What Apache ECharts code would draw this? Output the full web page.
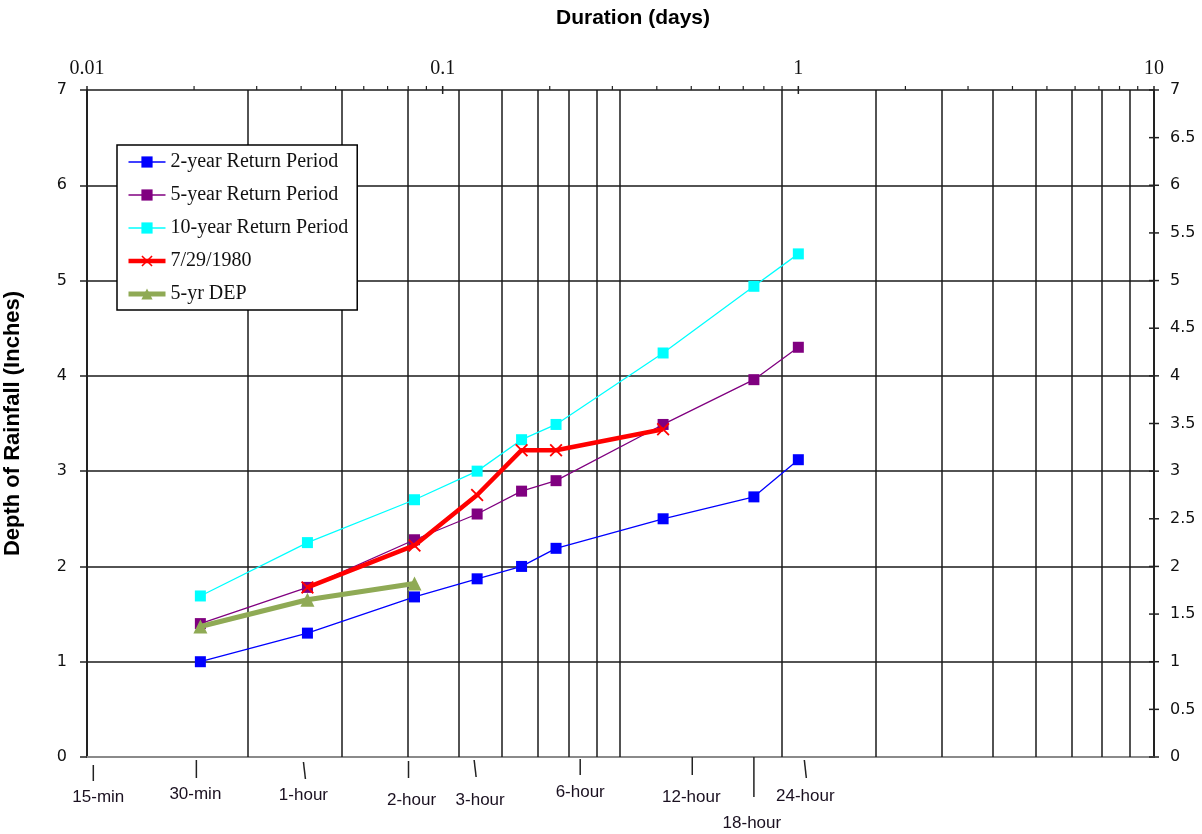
<!DOCTYPE html>
<html><head><meta charset="utf-8">
<script src="https://cdn.jsdelivr.net/npm/echarts@6/dist/echarts.min.js"></script>
<style>html,body{margin:0;padding:0;background:#fff}#c{width:1202px;height:834px}</style>
</head><body><div id="c"></div>
<script>
// ---- data (durations in days, depths in inches) ----
const durations = [0.020833, 0.041667, 0.083333, 0.125, 0.166667, 0.208333, 0.416667, 0.75, 1.0];
const twoYear  = [1.00, 1.30, 1.68, 1.87, 2.00, 2.19, 2.50, 2.73, 3.12];
const fiveYear = [1.40, 1.78, 2.28, 2.55, 2.79, 2.90, 3.49, 3.96, 4.30];
const tenYear  = [1.69, 2.25, 2.70, 3.00, 3.33, 3.49, 4.24, 4.94, 5.28];
const stormDurations = [0.041667, 0.083333, 0.125, 0.166667, 0.208333, 0.416667];
const storm1980 = [1.78, 2.22, 2.75, 3.22, 3.22, 3.44];
const depDurations = [0.020833, 0.041667, 0.083333];
const dep5yr = [1.37, 1.65, 1.82];
const seriesNames = ['2-year Return Period', '5-year Return Period', '10-year Return Period', '7/29/1980', '5-yr DEP'];
// bottom duration labels (in days)
const bottomTickValues = [0.010417, 0.020833, 0.041667, 0.083333, 0.125, 0.25, 0.5, 0.75, 1.0];
const bottomTickLabels = ['15-min', '30-min', '1-hour', '2-hour', '3-hour', '6-hour', '12-hour', '18-hour', '24-hour'];
// extra vertical gridlines (in days)
const gridDays = [0.02835, 0.0521, 0.0799, 0.1111, 0.1468, 0.1853, 0.2265, 0.2716, 0.315, 0.8993, 1.653, 2.533, 3.525, 4.656, 5.877, 7.137, 8.556];
// axis ticks
const topMajorTicks = [0.01, 0.1, 1, 10];
const topMinorTicks = [0.02,0.03,0.04,0.05,0.06,0.07,0.08,0.09,0.2,0.3,0.4,0.5,0.6,0.7,0.8,0.9,2,3,4,5,6,7,8,9];
const rightTicks = [0,0.5,1,1.5,2,2.5,3,3.5,4,4.5,5,5.5,6,6.5,7];

// ---- styles for bottom labels: [tickDx, tickTop, tickBottom, slant, labelDx, labelDy] ----
const bottomLabelStyle = [
  [0, 8, 24, 0, 5, 40],
  [-4, 3, 21, 0, -5, 37],
  [-4, 5, 22, 2, -4, 38],
  [-6, 4, 21, 0, -3, 43],
  [-3, 3, 20, 2, 3, 43],
  [-4, 2, 18, 0, -4, 35],
  [1, 0, 18, 0, 0, 40],
  [0, 0, 40, 0, -2, 66],
  [6, 3, 21, 2, 7, 39]
];

const GRID = '#1a1a1a';
const pair = (xs, ys) => xs.map((x, i) => [x, ys[i]]);
const xMark = 'path://M0,1L1,0L5,4L9,0L10,1L6,5L10,9L9,10L5,6L1,10L0,9L4,5Z';

const chart = echarts.init(document.getElementById('c'), null, {renderer: 'canvas'});
const option = {
  animation: false,
  backgroundColor: '#fff',
  title: {
    text: 'Duration (days)', left: 628, top: 3, textAlign: 'center',
    textStyle: {fontFamily: 'Liberation Sans', fontWeight: 'bold', fontSize: 21, color: '#000'}
  },
  legend: {
    data: seriesNames, orient: 'vertical', left: 117, top: 145,
    padding: [7, 9, 6, 9], itemGap: 13, itemWidth: 37, itemHeight: 14,
    borderColor: '#000', borderWidth: 1.5, backgroundColor: '#fff',
    lineStyle: {width: 'inherit'},
    textStyle: {fontFamily: 'Liberation Serif', fontSize: 20, color: '#111', lineHeight: 20},
    selectedMode: false
  },
  grid: {left: 87, right: 48, top: 90, bottom: 77, containLabel: false, outerBoundsMode: 'none'},
  xAxis: [
    {
      type: 'log', logBase: 10, min: 0.01, max: 10, position: 'top',
      axisLine: {show: true, lineStyle: {color: '#222', width: 2}},
      axisTick: {show: false}, splitLine: {show: false}, minorTick: {show: false},
      axisLabel: {show: true, margin: 11, fontFamily: 'Liberation Serif', fontSize: 20, color: '#111',
                  showMinLabel: true, showMaxLabel: true, hideOverlap: false,
                  formatter: v => String(+(+v).toPrecision(3))}
    },
    {
      type: 'log', logBase: 10, min: 0.01, max: 10, position: 'bottom',
      axisLine: {show: true, lineStyle: {color: '#8a8a8a', width: 2}},
      axisTick: {show: false}, axisLabel: {show: false}, splitLine: {show: false}
    }
  ],
  yAxis: [
    {
      type: 'value', min: 0, max: 7, interval: 1, position: 'left',
      name: 'Depth of Rainfall (Inches)', nameLocation: 'middle', nameGap: 63,
      nameTextStyle: {fontFamily: 'Liberation Sans', fontWeight: 'bold', fontSize: 22, color: '#000'},
      axisLine: {show: true, lineStyle: {color: '#222', width: 2}},
      axisTick: {show: true, length: 7, lineStyle: {color: '#222', width: 1.5}},
      axisLabel: {margin: 20, fontFamily: 'DejaVu Sans', fontSize: 16, color: '#111'},
      splitLine: {show: true, lineStyle: {color: GRID, width: 1.5}}
    },
    {
      type: 'value', min: 0, max: 7, interval: 0.5, position: 'right',
      axisLine: {show: true, lineStyle: {color: '#222', width: 2}},
      axisTick: {show: false},
      axisLabel: {margin: 16, fontFamily: 'DejaVu Sans', fontSize: 16, color: '#111'},
      splitLine: {show: false}
    }
  ],
  series: [
    {
      type: 'custom', name: 'vgrid', xAxisIndex: 0, yAxisIndex: 0, silent: true, z: 1, clip: false,
      data: gridDays.map(d => [d, 0]),
      renderItem: (params, api) => {
        const p0 = api.coord([api.value(0), 0]);
        const p1 = api.coord([api.value(0), 7]);
        const x = Math.round(p0[0]);
        return {type: 'line', shape: {x1: x, y1: p0[1], x2: x, y2: p1[1]},
                style: {stroke: GRID, lineWidth: 1.5}};
      }
    },
    {
      type: 'custom', name: 'topMajor', xAxisIndex: 0, yAxisIndex: 0, silent: true, z: 3, clip: false,
      data: topMajorTicks.map(d => [d, 7]),
      renderItem: (params, api) => {
        const p = api.coord([api.value(0), 7]);
        return {type: 'line', shape: {x1: p[0], y1: p[1] - 4, x2: p[0], y2: p[1] + 4},
                style: {stroke: '#222', lineWidth: 1.5}};
      }
    },
    {
      type: 'custom', name: 'topMinor', xAxisIndex: 0, yAxisIndex: 0, silent: true, z: 3, clip: false,
      data: topMinorTicks.map(d => [d, 7]),
      renderItem: (params, api) => {
        const p = api.coord([api.value(0), 7]);
        return {type: 'line', shape: {x1: p[0], y1: p[1] - 4, x2: p[0], y2: p[1]},
                style: {stroke: '#222', lineWidth: 1.2}};
      }
    },
    {
      type: 'custom', name: 'rightTicks', xAxisIndex: 0, yAxisIndex: 0, silent: true, z: 3, clip: false,
      data: rightTicks.map(v => [10, v]),
      renderItem: (params, api) => {
        const p = api.coord([10, api.value(1)]);
        return {type: 'line', shape: {x1: p[0] - 5, y1: p[1], x2: p[0] + 5, y2: p[1]},
                style: {stroke: '#222', lineWidth: 1.5}};
      }
    },
    {
      type: 'custom', name: 'bottomLabels', xAxisIndex: 0, yAxisIndex: 0, silent: true, z: 3, clip: false,
      data: bottomTickValues.map(d => [d, 0]),
      renderItem: (params, api) => {
        const i = params.dataIndex;
        const s = bottomLabelStyle[i];
        const p = api.coord([api.value(0), 0]);
        const x = p[0] + s[0];
        return {type: 'group', children: [
          {type: 'line', shape: {x1: x, y1: p[1] + s[1], x2: x + s[3], y2: p[1] + s[2]},
           style: {stroke: '#222', lineWidth: 1.5}},
          {type: 'text', style: {text: bottomTickLabels[i], x: p[0] + s[4], y: p[1] + s[5],
            align: 'center', verticalAlign: 'middle', fontFamily: 'Liberation Sans', fontSize: 17, fill: '#1a1020'}}
        ]};
      }
    },
    {
      type: 'line', name: seriesNames[0], xAxisIndex: 0, yAxisIndex: 0, z: 4,
      data: pair(durations, twoYear),
      symbol: 'rect', symbolSize: 11, showAllSymbol: true,
      lineStyle: {color: '#0000FF', width: 1.3}, itemStyle: {color: '#0000FF'}
    },
    {
      type: 'line', name: seriesNames[1], xAxisIndex: 0, yAxisIndex: 0, z: 4,
      data: pair(durations, fiveYear),
      symbol: 'rect', symbolSize: 11, showAllSymbol: true,
      lineStyle: {color: '#800080', width: 1.3}, itemStyle: {color: '#800080'}
    },
    {
      type: 'line', name: seriesNames[2], xAxisIndex: 0, yAxisIndex: 0, z: 4,
      data: pair(durations, tenYear),
      symbol: 'rect', symbolSize: 11, showAllSymbol: true,
      lineStyle: {color: '#00FFFF', width: 1.3}, itemStyle: {color: '#00FFFF'}
    },
    {
      type: 'line', name: seriesNames[3], xAxisIndex: 0, yAxisIndex: 0, z: 5,
      data: pair(stormDurations, storm1980),
      symbol: xMark, symbolSize: 13, showAllSymbol: true,
      lineStyle: {color: '#FF0000', width: 4.5}, itemStyle: {color: '#FF0000'}
    },
    {
      type: 'line', name: seriesNames[4], xAxisIndex: 0, yAxisIndex: 0, z: 5,
      data: pair(depDurations, dep5yr),
      symbol: 'triangle', symbolSize: 14, showAllSymbol: true,
      lineStyle: {color: '#8FAA55', width: 5}, itemStyle: {color: '#8FAA55'}
    }
  ]
};
chart.setOption(option);
</script>
</body></html>
